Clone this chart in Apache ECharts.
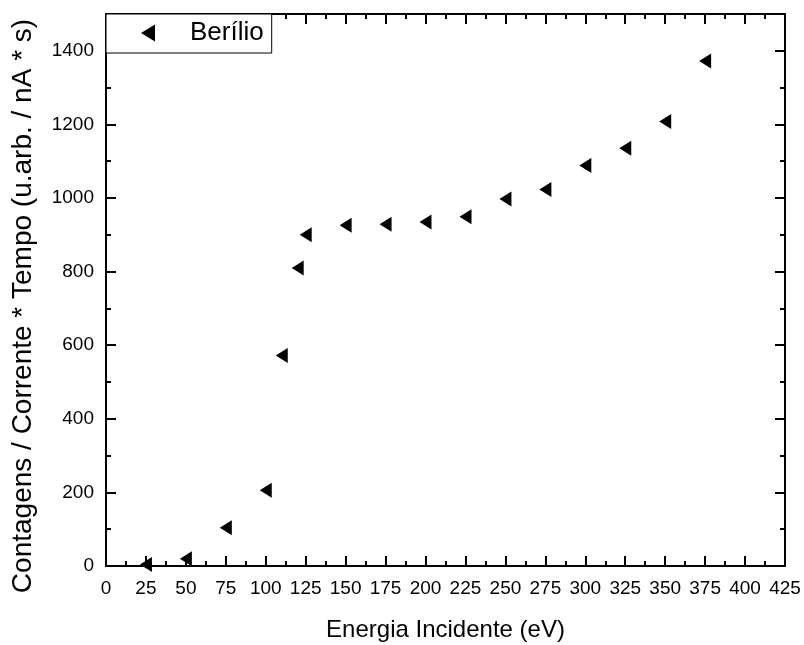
<!DOCTYPE html>
<html>
<head>
<meta charset="utf-8">
<title>Berílio</title>
<script src="https://cdn.jsdelivr.net/npm/echarts@6/dist/echarts.min.js"></script>
<style>
  html, body { margin: 0; padding: 0; background: #fff; }
  #chart { width: 804px; height: 645px; }
</style>
</head>
<body>
<div id="chart"></div>
<script>
// Incident energy (eV) and normalised counts for the beryllium target
const energia = [25, 50, 75, 100, 110, 120, 125, 150, 175, 200, 225, 250, 275, 300, 325, 350, 375];
const contagens = [4, 20, 104, 206, 572, 810, 900, 926, 929, 935, 949, 997, 1023, 1088, 1135, 1208, 1372];
const serieNome = 'Berílio';
const xTitulo = 'Energia Incidente (eV)';
const yTitulo = 'Contagens / Corrente * Tempo (u.arb. / nA * s)';

const FONT = '"Liberation Sans", Arial, Helvetica, sans-serif';
const TRI_LEFT = 'path://M0,6 L10,0 L10,12 Z';

const pontos = energia.map((e, i) => [e, contagens[i]]);

// Frame axis: black line, inward ticks, no labels unless overridden
function eixo(extra) {
  return Object.assign({
    type: 'value',
    offset: 0,
    splitLine: { show: false },
    axisLine: { show: true, onZero: false, lineStyle: { color: '#000', width: 2 } },
    axisTick: { show: true, inside: true, length: 10, lineStyle: { color: '#000', width: 2 } },
    axisLabel: { show: false }
  }, extra);
}

// Extra y axis carrying only the short 100-step ticks
const tickMenor = { show: true, inside: true, length: 5, lineStyle: { color: '#000', width: 2 } };
const semLinha = { show: false, onZero: false };

const chart = echarts.init(document.getElementById('chart'), null, { renderer: 'canvas' });
chart.setOption({
  animation: false,
  backgroundColor: '#fff',
  grid: { left: 106, right: 19, top: 14, bottom: 79, containLabel: false, outerBoundsMode: 'none' },
  legend: {
    left: 106,
    top: 14,
    orient: 'vertical',
    padding: [6, 8, 7, 35],
    backgroundColor: '#fff',
    borderColor: '#000',
    borderWidth: 1,
    borderRadius: 0,
    itemWidth: 14,
    itemHeight: 17,
    icon: TRI_LEFT,
    data: [serieNome],
    textStyle: { fontFamily: FONT, fontSize: 26, color: '#000', padding: [0, 0, 0, 30] }
  },
  xAxis: [
    eixo({
      position: 'bottom',
      min: 0, max: 425, interval: 25,
      name: xTitulo,
      nameLocation: 'middle',
      nameGap: 52,
      nameTextStyle: { fontFamily: FONT, fontSize: 24, color: '#000' },
      minorTick: { show: true, splitNumber: 2, length: 5, lineStyle: { color: '#000', width: 2 } },
      minorSplitLine: { show: false },
      axisLabel: { show: true, margin: 13, fontFamily: FONT, fontSize: 19, color: '#000' }
    }),
    eixo({
      position: 'top',
      min: 0, max: 425, interval: 25,
      minorTick: { show: true, splitNumber: 2, length: 5, lineStyle: { color: '#000', width: 2 } },
      minorSplitLine: { show: false }
    })
  ],
  yAxis: [
    eixo({
      position: 'left',
      min: 0, max: 1500, interval: 200,
      name: yTitulo,
      nameLocation: 'middle',
      nameGap: 69,
      nameTextStyle: { fontFamily: FONT, fontSize: 28, color: '#000', padding: [0, 32, 0, 0] },
      axisLabel: {
        show: true, margin: 12, fontFamily: FONT, fontSize: 19, color: '#000',
        showMaxLabel: false,
        formatter: (v) => String(v)
      }
    }),
    eixo({
      position: 'left',
      min: 0, max: 1500, interval: 100,
      axisLine: semLinha,
      axisTick: tickMenor
    }),
    eixo({
      position: 'right',
      min: 0, max: 1500, interval: 200
    }),
    eixo({
      position: 'right',
      min: 0, max: 1500, interval: 100,
      axisLine: semLinha,
      axisTick: tickMenor
    })
  ],
  series: [
    {
      name: serieNome,
      type: 'scatter',
      xAxisIndex: 0,
      yAxisIndex: 0,
      symbol: TRI_LEFT,
      symbolSize: [12, 15],
      itemStyle: { color: '#000', opacity: 1 },
      z: 1,
      data: pontos
    }
  ]
});
</script>
</body>
</html>
